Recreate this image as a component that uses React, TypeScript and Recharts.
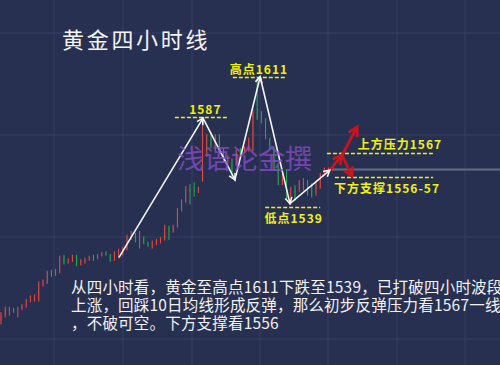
import { ComposedChart, Bar, Line, XAxis, YAxis, CartesianGrid, ReferenceLine } from "recharts"

// 4-hour gold candles (red = up, green = down)
const opens = [
  1473, 1476, 1477.5, 1479.5, 1478, 1480, 1481.5, 1484.5, 1485, 1484.5,
  1493.5, 1494.5, 1500.5, 1499, 1500.5, 1509, 1506, 1507, 1509.5, 1505,
  1506, 1507.5, 1509.5, 1508.5, 1510, 1511.5, 1510.5, 1507.5, 1509, 1511,
  1513.5, 1519.5, 1521.5, 1518.5, 1520, 1517, 1514.5, 1516.5, 1517.5, 1519,
  1526, 1524, 1526.5, 1535.5, 1540.5, 1548, 1548, 1546, 1553, 1568,
  1578.5, 1570, 1577.5, 1570, 1563, 1563, 1563, 1570, 1569, 1570,
  1570, 1594, 1590, 1587, 1576, 1571, 1560, 1551.5, 1557.5, 1543.5,
  1548, 1547.5, 1549, 1551.5, 1549.5, 1546, 1549.5, 1557, 1558, 1559,
]
const closes = [
  1476.5, 1480, 1479.5, 1478.5, 1480, 1481.5, 1484.5, 1486.5, 1487, 1494.5,
  1495.5, 1500.5, 1499, 1501.5, 1509, 1506, 1507.5, 1509.5, 1504.5, 1507,
  1508, 1509, 1507.5, 1510, 1511, 1510.5, 1507, 1511.5, 1513, 1514,
  1521, 1522.5, 1518.5, 1520, 1517.5, 1516, 1517.5, 1518.5, 1519.5, 1526.5,
  1523, 1526.5, 1536, 1541, 1548, 1546, 1546.5, 1548, 1568.5, 1577.5,
  1572, 1577.5, 1570, 1564.5, 1565.5, 1557.5, 1568.5, 1566, 1571, 1576,
  1591.5, 1588, 1586, 1577, 1572, 1559.5, 1551.5, 1556.5, 1544.5, 1547.5,
  1543, 1552, 1552, 1545.5, 1544, 1550.5, 1556, 1559, 1559.5, 1560,
]
const highs = [
  1478, 1481, 1481, 1480.5, 1481, 1482.5, 1485.5, 1487.5, 1488, 1495.5,
  1496.5, 1501.5, 1502, 1502.5, 1510, 1510.5, 1508.5, 1510.5, 1510.5, 1508,
  1509, 1510, 1510.5, 1511, 1512, 1512.5, 1511, 1512.5, 1514, 1515,
  1522, 1524, 1523, 1524, 1521, 1518, 1518.5, 1519.5, 1520.5, 1527.5,
  1527, 1527.5, 1537, 1542, 1549.5, 1550.5, 1551.5, 1549, 1588, 1579,
  1580, 1579, 1579, 1571, 1567, 1565, 1570, 1571, 1572, 1577,
  1593, 1611, 1592, 1588, 1577, 1572, 1561, 1558, 1559, 1549,
  1550, 1553, 1554, 1553, 1551, 1552, 1557, 1560, 1560, 1561,
]
const lows = [
  1471, 1475, 1476, 1477.5, 1475, 1479, 1480.5, 1483.5, 1484, 1484,
  1492.5, 1494, 1498, 1498.5, 1500, 1505, 1505.5, 1506.5, 1504, 1504.5,
  1505.5, 1507, 1507, 1508, 1509.5, 1510, 1506.5, 1507, 1508.5, 1510,
  1513, 1519, 1517.5, 1514, 1516.5, 1515, 1514, 1516, 1517, 1518.5,
  1519, 1523, 1526, 1535, 1540, 1539, 1543.5, 1545.5, 1552, 1566,
  1571, 1569, 1568, 1563, 1562, 1554, 1561, 1565, 1568, 1569,
  1569, 1587, 1585, 1576, 1570, 1558, 1550, 1550, 1542, 1539,
  1541, 1546, 1547, 1544, 1543, 1544, 1548, 1556, 1557, 1558,
]

// white zigzag (bar index, price)
const wavePath = [
  { i: 28.1, p: 1509 },
  { i: 48.1, p: 1588 },
  { i: 55.7, p: 1553 },
  { i: 61.7, p: 1611.5 },
  { i: 68.8, p: 1539.5 },
  { i: 78.3, p: 1558.5 },
]
// red projection arrows
const upPath = [
  { i: 78.3, p: 1558.5 },
  { i: 81.2, p: 1567 },
  { i: 84.8, p: 1583 },
]
const downPath = [
  { i: 81.2, p: 1567 },
  { i: 83.6, p: 1555 },
]

// dashed yellow levels: label, price, from bar, to bar
const levelLabels = ["1587", "高点1611", "低点1539", "上方压力1567", "下方支撑1556-57"]
const levelPrices = [1588.3, 1611, 1537.3, 1568, 1554.3]
const levelFrom = [41.4, 55.2, 62.9, 77.6, 79.5]
const levelTo = [54, 67.6, 76, 103.3, 102.9]
const levelBelow = [false, false, true, false, true]
const levelShift = [4, 0, 1, 19, 3]

const lastPrice = 1558.9

const candles = opens.map((o, i) => ({
  i,
  open: o,
  close: closes[i],
  range: [lows[i], highs[i]],
}))

const BG = "#283052"
const RED = "#ee4a3e"
const GREEN = "#20b24b"
const YELLOW = "#f1f10c"
const FONT = "'Noto Sans CJK SC', 'Noto Sans', sans-serif"

const Candle = (props: any) => {
  const { x, y, width, height, payload } = props
  if (!payload || height == null) return <g />
  const [lo, hi] = payload.range
  const toY = (v: number) => y + ((hi - v) / (hi - lo || 1)) * height
  const up = payload.close >= payload.open
  const color = up ? RED : GREEN
  const top = toY(Math.max(payload.open, payload.close))
  const bot = toY(Math.min(payload.open, payload.close))
  const cx = x + width / 2
  return (
    <g>
      <line x1={cx} x2={cx} y1={y} y2={y + height} stroke={color} strokeWidth={1} />
      <rect x={x} y={top} width={width} height={Math.max(bot - top, 1)} fill={color} />
    </g>
  )
}

const arrowDot = (color: string, size: number, width: number) => (props: any) => {
  const { cx, cy, index, points } = props
  const key = `a-${color}-${index}`
  if (!index || !points || !points[index - 1]) return <g key={key} />
  const prev = points[index - 1]
  const ang = Math.atan2(cy - prev.y, cx - prev.x)
  const a1 = ang + Math.PI - 0.5
  const a2 = ang + Math.PI + 0.5
  const pts = `${cx + size * Math.cos(a1)},${cy + size * Math.sin(a1)} ${cx},${cy} ${cx + size * Math.cos(a2)},${cy + size * Math.sin(a2)}`
  return <polyline key={key} points={pts} fill="none" stroke={color} strokeWidth={width} strokeLinejoin="miter" />
}

const LevelLabel = (props: any) => {
  const { viewBox, text, below, shift } = props
  if (!viewBox) return null
  const cx = viewBox.x + viewBox.width / 2 + shift
  return (
    <text
      x={cx}
      y={below ? viewBox.y + 15 : viewBox.y - 4}
      textAnchor="middle"
      fill={YELLOW}
      fontSize={12}
      fontWeight={700}
      letterSpacing={1}
      fontFamily={FONT}
    >
      {text}
    </text>
  )
}

export default function App() {
  return (
    <div
      style={{
        position: "absolute",
        left: 0,
        top: 0,
        width: 500,
        height: 365,
        background: BG,
        overflow: "hidden",
        fontFamily: FONT,
      }}
    >
      <ComposedChart width={500} height={365} data={candles} margin={{ top: 0, right: 0, bottom: 0, left: 0 }}>
        <CartesianGrid
          stroke="#353d60"
          horizontalPoints={[33, 135, 237, 339]}
          verticalPoints={[54, 123, 192, 260, 328, 397, 465]}
        />
        <XAxis dataKey="i" type="number" domain={[-0.24, 118.81]} hide allowDataOverflow />
        <YAxis type="number" domain={[1448, 1655]} hide allowDataOverflow />
        <ReferenceLine
          segment={[{ x: 78.8, y: lastPrice }, { x: 118.8, y: lastPrice }]}
          stroke="#666d82"
          strokeWidth={2}
        />
        <Bar dataKey="range" barSize={3} shape={<Candle />} isAnimationActive={false} />
        {levelLabels.map((t, k) => (
          <ReferenceLine
            key={t}
            segment={[{ x: levelFrom[k], y: levelPrices[k] }, { x: levelTo[k], y: levelPrices[k] }]}
            stroke={YELLOW}
            strokeWidth={1.5}
            strokeDasharray="4 2"
            label={<LevelLabel text={t} below={levelBelow[k]} shift={levelShift[k]} />}
          />
        ))}
        <Line
          data={wavePath}
          dataKey="p"
          type="linear"
          stroke="#f5f5f5"
          strokeWidth={1.6}
          dot={arrowDot("#f5f5f5", 7, 1.6)}
          activeDot={false}
          isAnimationActive={false}
        />
        <Line
          data={upPath}
          dataKey="p"
          type="linear"
          stroke="#d0121c"
          strokeWidth={2.6}
          dot={arrowDot("#d0121c", 10, 2.6)}
          activeDot={false}
          isAnimationActive={false}
        />
        <Line
          data={downPath}
          dataKey="p"
          type="linear"
          stroke="#d0121c"
          strokeWidth={2.6}
          dot={arrowDot("#d0121c", 10, 2.6)}
          activeDot={false}
          isAnimationActive={false}
        />
      </ComposedChart>

      <div
        style={{
          position: "absolute",
          left: 62,
          top: 25,
          fontSize: 22,
          letterSpacing: 2.7,
          color: "#f4f4f4",
          lineHeight: "26px",
          whiteSpace: "nowrap",
        }}
      >
        黄金四小时线
      </div>

      <div
        style={{
          position: "absolute",
          left: 177,
          top: 141,
          fontSize: 27,
          color: "rgba(136, 76, 200, 0.8)",
          lineHeight: "34px",
          whiteSpace: "nowrap",
          pointerEvents: "none",
        }}
      >
        浅语论金撰
      </div>

      <div
        style={{
          position: "absolute",
          left: 71,
          top: 277,
          fontSize: 15.5,
          letterSpacing: 0.2,
          lineHeight: "18px",
          color: "#f2f2f2",
          whiteSpace: "nowrap",
        }}
      >
        <div>从四小时看，黄金至高点1611下跌至1539，已打破四小时波段</div>
        <div>上涨，回踩10日均线形成反弹，那么初步反弹压力看1567一线</div>
        <div>，不破可空。下方支撑看1556</div>
      </div>
    </div>
  )
}
